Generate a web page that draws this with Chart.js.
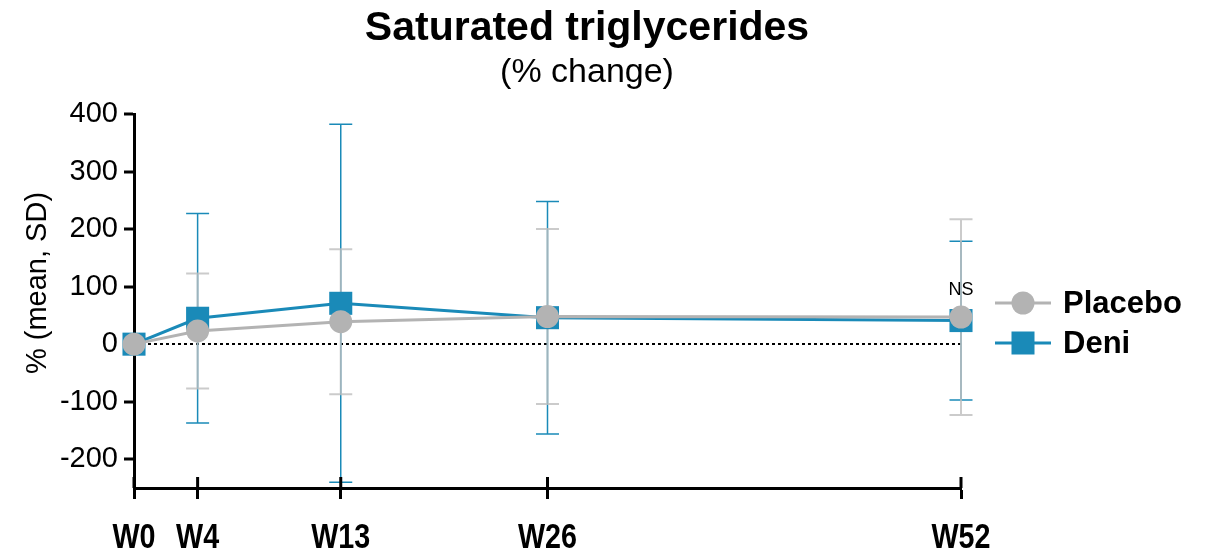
<!DOCTYPE html>
<html>
<head>
<meta charset="utf-8">
<script src="https://cdn.jsdelivr.net/npm/chart.js@4.4.0/dist/chart.umd.min.js"></script>
<style>
  body { margin: 0; background: #fff; }
  #wrap { width: 1206px; height: 552px; position: relative; }
</style>
</head>
<body>
<div id="wrap"><canvas id="myChart"></canvas></div>
<script>
// weeks on a linear axis
const weeks = [0, 4, 13, 26, 52];
const weekLabels = ['W0', 'W4', 'W13', 'W26', 'W52'];
const yTicks = [-200, -100, 0, 100, 200, 300, 400];

// % change, mean and SD
const placeboMean = [0, 23, 39, 48, 47];
const placeboSD = [0, 100, 126, 152, 170];
const deniMean = [0, 45, 71, 46, 41];
const deniSD = [0, 182, 311, 202, 138];

const grey = '#b3b3b3';
const blue = '#1a8ab8';
const font = '"Liberation Sans", Arial, sans-serif';

// SD bars, drawn behind the lines and markers
const errorBars = {
  id: 'errorBars',
  beforeDatasetsDraw(chart) {
    const ctx = chart.ctx;
    const x = chart.scales.x, y = chart.scales.y;
    const sets = [
      [deniMean, deniSD, blue, 1.5],
      [placeboMean, placeboSD, 'rgba(190,190,190,0.8)', 2]
    ];
    ctx.save();
    sets.forEach(function (s) {
      ctx.strokeStyle = s[2];
      ctx.lineWidth = s[3];
      weeks.forEach(function (w, i) {
        if (!s[1][i]) return;
        const px = x.getPixelForValue(w);
        const top = y.getPixelForValue(s[0][i] + s[1][i]);
        const bot = y.getPixelForValue(s[0][i] - s[1][i]);
        ctx.beginPath();
        ctx.moveTo(px, top); ctx.lineTo(px, bot);
        ctx.moveTo(px - 11.5, top); ctx.lineTo(px + 11.5, top);
        ctx.moveTo(px - 11.5, bot); ctx.lineTo(px + 11.5, bot);
        ctx.stroke();
      });
    });
    ctx.restore();
  }
};

// titles, legend, NS label, x tick labels, inner half of x ticks
const extras = {
  id: 'extras',
  afterDraw(chart) {
    const ctx = chart.ctx;
    const x = chart.scales.x, y = chart.scales.y;
    ctx.save();
    ctx.fillStyle = '#000';
    ctx.textAlign = 'center';
    ctx.textBaseline = 'middle';
    ctx.font = 'bold 41px ' + font;
    ctx.fillText('Saturated triglycerides', 587, 29);
    ctx.font = '34px ' + font;
    ctx.fillText('(% change)', 587, 73);

    // y title
    ctx.save();
    ctx.translate(38, 283);
    ctx.rotate(-Math.PI / 2);
    ctx.font = '29px ' + font;
    ctx.fillText('% (mean, SD)', 0, 0);
    ctx.restore();

    // NS
    ctx.font = '18px ' + font;
    ctx.fillText('NS', x.getPixelForValue(52), 290);

    // x tick labels, narrow bold
    ctx.font = 'bold 35px ' + font;
    ctx.textBaseline = 'alphabetic';
    weeks.forEach(function (w, i) {
      ctx.save();
      ctx.translate(x.getPixelForValue(w), 548);
      ctx.scale(0.82, 1);
      ctx.fillText(weekLabels[i], 0, 0);
      ctx.restore();
    });

    // ticks crossing the x axis
    ctx.strokeStyle = '#000';
    ctx.lineWidth = 3;
    weeks.forEach(function (w) {
      const px = x.getPixelForValue(w);
      ctx.beginPath();
      ctx.moveTo(px, x.top);
      ctx.lineTo(px, x.top - 11);
      ctx.stroke();
    });

    // legend
    ctx.textBaseline = 'middle';
    const items = [['Placebo', grey, 'circle', 303], ['Deni', blue, 'rect', 343]];
    items.forEach(function (it) {
      ctx.strokeStyle = it[1];
      ctx.fillStyle = it[1];
      ctx.lineWidth = 3;
      ctx.beginPath();
      ctx.moveTo(995, it[3]); ctx.lineTo(1051, it[3]);
      ctx.stroke();
      if (it[2] === 'circle') {
        ctx.beginPath();
        ctx.arc(1023, it[3], 11.5, 0, Math.PI * 2);
        ctx.fill();
      } else {
        ctx.fillRect(1023 - 11.5, it[3] - 11.5, 23, 23);
      }
      ctx.fillStyle = '#000';
      ctx.textAlign = 'left';
      ctx.font = 'bold 31px ' + font;
      ctx.fillText(it[0], 1063, it[3] + 1);
    });
    ctx.restore();
  }
};

const ctx = document.getElementById('myChart').getContext('2d');
const myChart = new Chart(ctx, {
  type: 'line',
  data: {
    datasets: [
      {
        label: 'Placebo',
        data: weeks.map((w, i) => ({ x: w, y: placeboMean[i] })),
        borderColor: grey,
        backgroundColor: grey,
        borderWidth: 3,
        pointStyle: 'circle',
        pointRadius: 11.5,
        pointBorderWidth: 0,
        pointHoverRadius: 11.5,
        clip: false
      },
      {
        label: 'Deni',
        data: weeks.map((w, i) => ({ x: w, y: deniMean[i] })),
        borderColor: blue,
        backgroundColor: blue,
        borderWidth: 3,
        pointStyle: 'rect',
        pointRadius: 16.3,
        pointBorderWidth: 0,
        pointHoverRadius: 16.3,
        clip: false
      }
    ]
  },
  options: {
    responsive: true,
    maintainAspectRatio: false,
    animation: false,
    layout: { padding: { top: 114, right: 245, left: 0, bottom: 0 } },
    plugins: {
      legend: { display: false },
      tooltip: { enabled: false }
    },
    scales: {
      x: {
        type: 'linear',
        min: 0,
        max: 52,
        afterBuildTicks: s => { s.ticks = weeks.map(v => ({ value: v })); },
        afterFit: s => { s.height = 64; },
        grid: { drawOnChartArea: false, tickLength: 11, tickWidth: 3, tickColor: '#000' },
        border: { color: '#000', width: 3 },
        ticks: { display: false }
      },
      y: {
        min: -250,
        max: 400,
        afterBuildTicks: s => { s.ticks = yTicks.map(v => ({ value: v })); },
        afterFit: s => { s.width = 134; },
        grid: {
          color: c => (c.tick && c.tick.value === 0 ? '#000' : 'transparent'),
          lineWidth: 2,
          tickLength: 10,
          tickWidth: 3,
          tickColor: '#000'
        },
        border: { color: '#000', width: 3, dash: [3, 3] },
        ticks: {
          padding: 6,
          color: '#000',
          font: { family: font, size: 29 }
        }
      }
    }
  },
  plugins: [errorBars, extras]
});
</script>
</body>
</html>
